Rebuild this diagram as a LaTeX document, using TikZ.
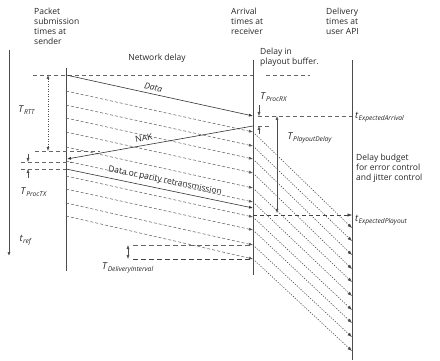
\documentclass[tikz,border=0pt]{standalone}
\usepackage{fontspec}
\setmainfont{Open Sans}
\usetikzlibrary{arrows.meta}
\newcommand{\tsym}[2]{{\fontsize{9.5}{11}\selectfont\textit{#1}\textsubscript{\textit{#2}}}}
\begin{document}
\begin{tikzpicture}[x=1pt,y=-1pt,
  every node/.style={inner sep=0pt, font=\fontsize{8.5}{10}\selectfont, text=black!85},
  tip/.style={-{Latex[length=4pt,width=3pt]}},
  vline/.style={draw=black!70, line width=0.7pt},
  solidpkt/.style={draw=black!80, line width=0.6pt, tip},
  pkt/.style={draw=black!65, line width=0.5pt, dash pattern=on 3pt off 2pt, tip},
  dlv/.style={draw=black!70, line width=0.6pt, dash pattern=on 1.2pt off 1.4pt, -{Latex[length=4.5pt,width=3.5pt]}},
  guide/.style={draw=black!60, line width=0.5pt, dash pattern=on 4pt off 3pt},
  meas/.style={draw=black!70, line width=0.5pt, {Latex[length=4pt,width=3pt]}-{Latex[length=4pt,width=3pt]}},
  lbl/.style={align=left, anchor=north west}
]
\useasboundingbox (0,0) rectangle (440,361);
% titles
\node[lbl] (snd) at (34,8) {Packet\\submission\\times at\\sender};
\node[lbl] (rcv) at (231,8) {Arrival\\times at\\receiver};
\node[lbl] (dlvt) at (326,8) {Delivery\\times at\\user API};
\node[lbl] (pob) at (260,48) {Delay in\\playout buffer.};
\node (nd) at (157,58) {Network delay};
% vertical lines
\coordinate (axT) at (9,50); \coordinate (axB) at (9,256);
\draw[vline, tip] (axT) -- (axB);
\coordinate (sT) at (66,68); \coordinate (sB) at (66,271);
\coordinate (rT) at (253,60); \coordinate (rB) at (253,275);
\coordinate (dT) at (352,60); \coordinate (dB) at (352,360);
\draw[vline] (sT) -- (sB);
\draw[vline] (rT) -- (rB);
\draw[vline] (dT) -- (dB);
% guides
\coordinate (g1a) at (33,75); \coordinate (g1b) at (253,75);
\coordinate (g1c) at (266,75); \coordinate (g1d) at (310,75);
\draw[guide] (g1a) -- (g1b);
\draw[guide] (g1c) -- (g1d);
\coordinate (eaA) at (258,116); \coordinate (eaB) at (352,116);
\draw[guide] (eaA) -- (eaB);
\coordinate (nkA) at (258,126); \coordinate (nkB) at (272,126);
\draw[guide] (nkA) -- (nkB);
\coordinate (rtA) at (35,151); \coordinate (rtB) at (100,151);
\draw[guide] (rtA) -- (rtB);
\coordinate (ptA) at (21,162); \coordinate (ptB) at (72,162);
\draw[guide] (ptA) -- (ptB);
\coordinate (pcA) at (21,169); \coordinate (pcB) at (66,169);
\draw[guide] (pcA) -- (pcB);
\coordinate (epA) at (253,215); \coordinate (epB) at (352,215);
\draw[guide, draw=black!75, -{Latex[length=4.5pt,width=3.5pt]}] (epA) -- (epB);
\coordinate (diA) at (133,245); \coordinate (diB) at (253,245);
\coordinate (diC) at (133,259); \coordinate (diD) at (253,259);
\draw[guide, dash pattern=on 5pt off 3pt] (diA) -- (diB);
\draw[guide, draw=black!75, dash pattern=on 5pt off 3pt] (diC) -- (diD);
% measures
\coordinate (m1a) at (48,75); \coordinate (m1b) at (48,151);
\draw[meas, dash pattern=on 1pt off 1.5pt] (m1a) -- (m1b);
\coordinate (m2a) at (28,154); \coordinate (m2b) at (28,162);
\coordinate (m2c) at (28,178); \coordinate (m2d) at (28,169);
\draw[draw=black!70, tip] (m2a) -- (m2b);
\draw[draw=black!70, tip] (m2c) -- (m2d);
\coordinate (m3a) at (259,105); \coordinate (m3b) at (259,116);
\coordinate (m3c) at (259,134); \coordinate (m3d) at (259,126);
\draw[draw=black!70, tip] (m3a) -- (m3b);
\draw[draw=black!70, tip] (m3c) -- (m3d);
\coordinate (m4a) at (277,116); \coordinate (m4b) at (277,213);
\draw[meas] (m4a) -- (m4b);
\coordinate (m5a) at (128,245); \coordinate (m5b) at (128,259);
\draw[meas] (m5a) -- (m5b);
% packets sender -> receiver
\foreach \s/\a [count=\i] in {91/132, 105/146, 118/159, 132/173, 147/188, 161/202, 176/217, 189/230, 203/245, 216/259} {
  \coordinate (ps\i) at (66,\s); \coordinate (pr\i) at (253,\a);
  \draw[pkt] (ps\i) -- (pr\i);
}
% receiver -> delivery
\foreach \a/\d [count=\i] in {132/228, 146/241, 159/255, 173/269, 188/282, 202/296, 217/310, 230/323, 245/337, 259/351} {
  \coordinate (qr\i) at (253,\a); \coordinate (qd\i) at (352,\d);
  \draw[dlv] (qr\i) -- (qd\i);
}
% main packets
\coordinate (dA) at (66,75); \coordinate (dB2) at (253,116);
\draw[solidpkt] (dA) -- node[sloped, above=3pt, pos=0.46] (dlab) {\textit{Data}} (dB2);
\coordinate (nA) at (253,126); \coordinate (nB) at (67,159);
\draw[solidpkt] (nA) -- node[sloped, above=4pt, pos=0.58] (nlab) {NAK} (nB);
\coordinate (xA) at (66,169); \coordinate (xB) at (253,208);
\draw[solidpkt] (xA) -- node[sloped, above=4pt, pos=0.52] (xlab) {Data or parity retransmission} (xB);
% labels
\node (lrtt) at (27,110) {\tsym{T}{RTT}};
\node (lptx) at (34,192) {\tsym{T}{ProcTX}};
\node (lref) at (26,240) {\tsym{t}{ref}};
\node (lprx) at (274,97) {\tsym{T}{ProcRX}};
\node (lpd) at (310,138) {\tsym{T}{PlayoutDelay}};
\node[anchor=west] (lea) at (355,117) {\tsym{t}{ExpectedArrival}};
\node[anchor=west] (lep) at (355,220) {\tsym{t}{ExpectedPlayout}};
\node[anchor=west, align=left] (lbud) at (356,168) {Delay budget\\for error control\\and jitter control};
\node (ldi) at (128,268) {\tsym{T}{DeliveryInterval}};
\end{tikzpicture}
\end{document}
